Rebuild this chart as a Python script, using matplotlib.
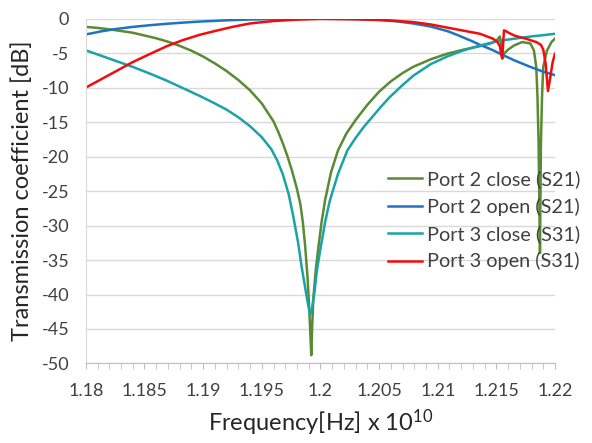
import matplotlib
matplotlib.use("Agg")
import matplotlib.pyplot as plt
from matplotlib.ticker import MultipleLocator

plt.rcParams['font.family'] = ['Lato', 'DejaVu Sans']
plt.rcParams['mathtext.default'] = 'regular'

# Port 2 close (S21)
g_f = [1.180, 1.181, 1.182, 1.183, 1.184, 1.185, 1.186, 1.187, 1.188, 1.189, 1.190, 1.191,
       1.192, 1.193, 1.194, 1.195, 1.196, 1.1964, 1.1968, 1.1972, 1.1976, 1.1980, 1.1983,
       1.1985, 1.1987, 1.1989, 1.1990, 1.1991, 1.19922, 1.1993, 1.1994, 1.1996, 1.1998,
       1.2001, 1.2004, 1.2009, 1.2015, 1.2022, 1.2030, 1.2040, 1.2050, 1.2060, 1.2070,
       1.2079, 1.2094, 1.2108, 1.2122, 1.2136, 1.2145, 1.2150, 1.2153, 1.2154, 1.21552,
       1.2157, 1.2160, 1.2165, 1.2172, 1.2179, 1.2182, 1.2184, 1.2185, 1.2186, 1.21872,
       1.2188, 1.2189, 1.2190, 1.2193, 1.2197, 1.2200]
g_v = [-1.2, -1.35, -1.55, -1.8, -2.05, -2.45, -2.85, -3.35, -3.95, -4.65, -5.5, -6.5,
       -7.6, -8.9, -10.4, -12.3, -14.9, -16.4, -18.1, -20.0, -22.2, -24.7, -27.0,
       -29.5, -33.0, -37.5, -40.5, -44.0, -48.8, -44.5, -40.5, -36.5, -33.5,
       -29.5, -26.3, -22.3, -19.1, -16.7, -14.7, -12.5, -10.6, -9.1, -7.9,
       -7.0, -5.9, -5.1, -4.5, -4.0, -3.6, -3.2, -2.6, -3.4, -5.7,
       -5.0, -4.5, -3.9, -3.4, -3.6, -4.6, -7.0, -11.0, -18.0, -34.0,
       -18.0, -11.0, -7.0, -4.7, -3.4, -2.9]

# Port 2 open (S21)
b_f = [1.180, 1.1813, 1.1826, 1.1840, 1.1855, 1.1869, 1.1883, 1.1897, 1.1920, 1.1940, 1.1970,
       1.2000, 1.2025, 1.2051, 1.2065, 1.2079, 1.2094, 1.2108, 1.2115, 1.2122, 1.2129, 1.2136,
       1.2146, 1.2154, 1.2155, 1.2157, 1.2166, 1.2179, 1.2190, 1.2200]
b_v = [-2.3, -1.85, -1.5, -1.2, -0.95, -0.75, -0.58, -0.43, -0.25, -0.13, -0.03,
       0.0, -0.05, -0.2, -0.4, -0.7, -1.15, -1.8, -2.25, -2.75, -3.25, -3.8,
       -4.5, -5.15, -5.6, -5.4, -6.1, -7.0, -7.7, -8.2]

# Port 3 close (S31)
t_f = [1.180, 1.181, 1.182, 1.183, 1.184, 1.1855, 1.1869, 1.1883, 1.1897, 1.191, 1.192, 1.193,
       1.194, 1.195, 1.1958, 1.1963, 1.1968, 1.1973, 1.1977, 1.1981, 1.1984, 1.1987, 1.1989,
       1.19912, 1.1993, 1.1995, 1.1997, 1.2000, 1.2004, 1.2008, 1.2015, 1.2023, 1.2030, 1.2037,
       1.2044, 1.2051, 1.2059, 1.2069, 1.2079, 1.2094, 1.2108, 1.2122, 1.2136, 1.2153, 1.2166,
       1.2179, 1.2190, 1.2200]
t_v = [-4.6, -5.2, -5.8, -6.4, -7.0, -8.0, -9.0, -10.1, -11.2, -12.3, -13.2, -14.3,
       -15.6, -17.2, -18.9, -20.5, -22.6, -25.5, -28.8, -32.5, -36.0, -39.0, -41.0,
       -43.0, -41.8, -39.6, -36.5, -33.4, -29.5, -26.4, -22.5, -19.1, -17.3, -15.7,
       -14.3, -12.9, -11.4, -9.8, -8.3, -6.6, -5.5, -4.6, -3.9, -3.2, -2.9,
       -2.6, -2.4, -2.2]

# Port 3 open (S31)
r_f = [1.180, 1.1813, 1.1826, 1.1840, 1.1855, 1.1869, 1.1883, 1.1897, 1.1910, 1.1925, 1.1940,
       1.1960, 1.1980, 1.2000, 1.2030, 1.2051, 1.2065, 1.2079, 1.2094, 1.2108, 1.2122, 1.2136,
       1.2147, 1.2151, 1.2153, 1.2154, 1.2155, 1.21565, 1.2158, 1.2161, 1.2166, 1.2175, 1.2184,
       1.2188, 1.2190, 1.2192, 1.2194, 1.2196, 1.2198, 1.2200]
r_v = [-10.0, -8.8, -7.6, -6.3, -5.1, -4.0, -3.1, -2.35, -1.8, -1.2, -0.7,
       -0.35, -0.15, -0.05, -0.1, -0.2, -0.33, -0.5, -0.85, -1.3, -1.75, -2.2,
       -2.9, -3.4, -4.0, -5.0, -5.8, -1.7, -1.8, -2.1, -2.5, -2.9, -3.4,
       -3.8, -4.5, -6.5, -10.5, -8.5, -6.3, -5.1]

labels = ["Port 2 close (S21)", "Port 2 open (S21)", "Port 3 close (S31)", "Port 3 open (S31)"]
colors = ["#5A8A33", "#1E73C2", "#1AA3A6", "#F20D0D"]
x_ticks = [1.18, 1.185, 1.19, 1.195, 1.2, 1.205, 1.21, 1.215, 1.22]
x_tick_labels = ["1.18", "1.185", "1.19", "1.195", "1.2", "1.205", "1.21", "1.215", "1.22"]
y_ticks = [0, -5, -10, -15, -20, -25, -30, -35, -40, -45, -50]

fig = plt.figure(figsize=(5.92, 4.43), dpi=100)
ax = fig.add_axes([0.145, 0.1795, 0.7925, 0.7785])

series = [(g_f, g_v), (b_f, b_v), (t_f, t_v), (r_f, r_v)]
for (f, v), lab, c in zip(series, labels, colors):
    ax.plot(f, v, color=c, lw=1.8, label=lab, solid_joinstyle='round')

ax.set_xlim(1.18, 1.22)
ax.set_ylim(-50, 0)
ax.set_xticks(x_ticks)
ax.set_xticklabels(x_tick_labels)
ax.xaxis.set_minor_locator(MultipleLocator(0.001))
ax.set_yticks(y_ticks)
ax.set_yticklabels([str(y) for y in y_ticks])

ax.grid(axis='y', color='#D9D9D9', lw=1.0)
ax.set_axisbelow(True)
for s in ['top', 'right']:
    ax.spines[s].set_visible(False)
ax.spines['left'].set_color('#D9D9D9')
ax.spines['bottom'].set_color('#BFBFBF')
ax.tick_params(axis='x', which='both', direction='out', length=4, color='#BFBFBF',
               labelsize=13, labelcolor='#404040', pad=10)
ax.tick_params(axis='y', length=0, labelsize=13, labelcolor='#404040', pad=12)

ax.set_xlabel("Frequency[Hz] x $10^{10}$", fontsize=17, color='#262626', labelpad=6)
ax.set_ylabel("Transmission coefficient [dB]", fontsize=17, color='#262626', labelpad=6)

leg = fig.legend(loc='upper left', bbox_to_anchor=(0.642, 0.633), frameon=False,
                 fontsize=14.3, handlelength=1.7, handletextpad=0.25, labelspacing=0.47,
                 borderaxespad=0)
for t in leg.get_texts():
    t.set_color('#404040')

fig.savefig("out.png", dpi=100)
